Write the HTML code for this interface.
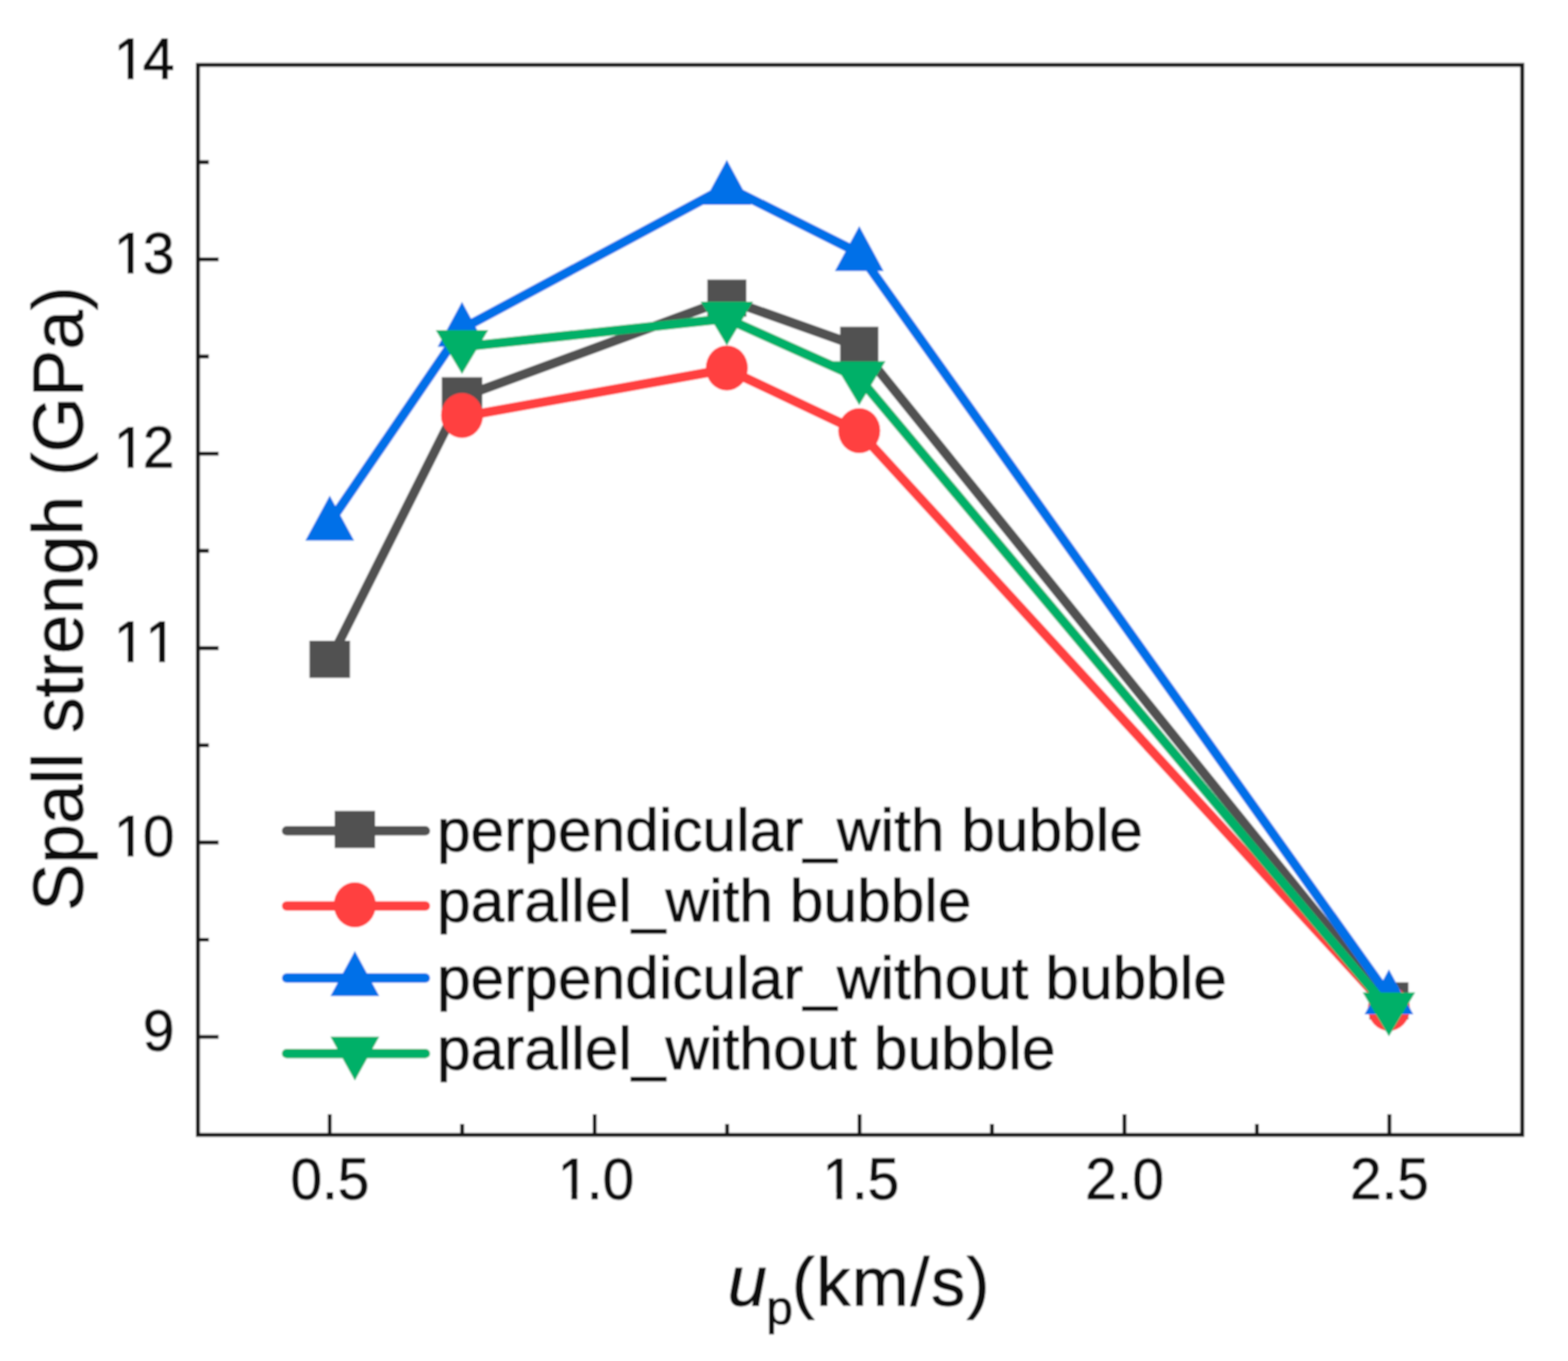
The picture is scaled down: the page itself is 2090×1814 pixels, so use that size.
<!DOCTYPE html>
<html lang="en">
<head>
<meta charset="utf-8">
<title>Spall strength vs particle velocity</title>
<style>
html,body{margin:0;padding:0;background:#fff;}
body{width:2090px;height:1814px;overflow:hidden;font-family:"Liberation Sans",Arial,Helvetica,sans-serif;}
svg{display:block;}
</style>
</head>
<body>
<svg role="img" aria-label="Spall strength versus particle velocity" width="2090" height="1814" viewBox="0 0 2090 1814" font-family="'Liberation Sans', Arial, Helvetica, sans-serif">
<defs><filter id="soft" x="0" y="0" width="2090" height="1814" filterUnits="userSpaceOnUse"><feGaussianBlur stdDeviation="1.1"/></filter></defs>
<rect x="0" y="0" width="2090" height="1814" fill="#ffffff"/>
<g filter="url(#soft)">
<rect x="0" y="0" width="2090" height="1814" fill="#ffffff"/>
<g id="series-sq">
<polyline points="439.5,880.5 615.8,529.2 968.8,399.1 1145.3,462.0 1851.3,1335.8" fill="none" stroke="#515151" stroke-width="12.5" stroke-linejoin="round"/>
<rect x="412.5" y="854.0" width="54" height="49.5" fill="#515151"/>
<rect x="588.8" y="502.7" width="54" height="49.5" fill="#515151"/>
<rect x="942.8" y="372.6" width="52" height="49.5" fill="#515151"/>
<rect x="1119.8" y="435.5" width="51" height="49.5" fill="#515151"/>
<rect x="1825.3" y="1309.3" width="52" height="49.5" fill="#515151"/>
</g>
<g id="series-ci">
<polyline points="615.8,555.3 968.8,492.0 1145.3,575.5 1851.3,1345.5" fill="none" stroke="#FF4040" stroke-width="12.5" stroke-linejoin="round"/>
<ellipse cx="615.8" cy="553.8" rx="28" ry="30" fill="#FF4040"/>
<ellipse cx="968.8" cy="490.5" rx="28" ry="30" fill="#FF4040"/>
<ellipse cx="1145.3" cy="574.0" rx="28" ry="30" fill="#FF4040"/>
<ellipse cx="1851.3" cy="1344.0" rx="28" ry="30" fill="#FF4040"/>
</g>
<g id="series-up">
<polyline points="439.5,696.6 615.8,438.2 968.8,249.0 1145.3,337.3 1851.3,1328.1" fill="none" stroke="#0070E8" stroke-width="12.5" stroke-linejoin="round"/>
<polygon points="439.5,660.6 472.0,720.6 407.0,720.6" fill="#0070E8"/>
<polygon points="615.8,402.2 648.3,462.2 583.3,462.2" fill="#0070E8"/>
<polygon points="968.8,213.0 1001.3,273.0 936.3,273.0" fill="#0070E8"/>
<polygon points="1145.3,301.3 1177.8,361.3 1112.8,361.3" fill="#0070E8"/>
<polygon points="1851.3,1292.1 1883.8,1352.1 1818.8,1352.1" fill="#0070E8"/>
</g>
<g id="series-dn">
<polyline points="615.8,462.4 968.8,424.6 1145.3,504.0 1851.3,1345.3" fill="none" stroke="#00B068" stroke-width="12.5" stroke-linejoin="round"/>
<polygon points="615.8,498.4 650.8,439.9 580.8,439.9" fill="#00B068"/>
<polygon points="968.8,460.6 1003.8,402.1 933.8,402.1" fill="#00B068"/>
<polygon points="1145.3,540.0 1180.3,481.5 1110.3,481.5" fill="#00B068"/>
<polygon points="1851.3,1381.3 1886.3,1322.8 1816.3,1322.8" fill="#00B068"/>
</g>
<g id="axes">
<rect x="263.8" y="86.5" width="1765.2" height="1426.1" fill="none" stroke="#141414" stroke-width="5.4"/>
<path d="M263.8 216.1h14.5 M263.8 345.6h27.5 M263.8 475.2h14.5 M263.8 604.7h27.5 M263.8 734.2h14.5 M263.8 863.8h27.5 M263.8 993.4h14.5 M263.8 1122.9h27.5 M263.8 1252.5h14.5 M263.8 1382.0h27.5 M439.5 1512.6v-27.5 M616.0 1512.6v-14.5 M792.6 1512.6v-27.5 M969.2 1512.6v-14.5 M1145.7 1512.6v-27.5 M1322.2 1512.6v-14.5 M1498.8 1512.6v-27.5 M1675.4 1512.6v-14.5 M1851.9 1512.6v-27.5" fill="none" stroke="#141414" stroke-width="5.2"/>
</g>
<g id="y-tick-labels">
<text transform="translate(0,104.70) scale(1,1.02)" y="0" font-size="75.5" fill="#0c0c0c" stroke="#0c0c0c" stroke-width="1.2" stroke-linejoin="round"><tspan x="151.71">1</tspan><tspan x="190.51">4</tspan></text><rect x="155.46" y="96.75" width="14.63" height="10.15" fill="#fff"/><rect x="177.97" y="96.75" width="13.94" height="10.15" fill="#fff"/>
<text transform="translate(0,363.80) scale(1,1.02)" y="0" font-size="75.5" fill="#0c0c0c" stroke="#0c0c0c" stroke-width="1.2" stroke-linejoin="round"><tspan x="151.71">1</tspan><tspan x="190.51">3</tspan></text><rect x="155.46" y="355.85" width="14.63" height="10.15" fill="#fff"/><rect x="177.97" y="355.85" width="13.94" height="10.15" fill="#fff"/>
<text transform="translate(0,622.90) scale(1,1.02)" y="0" font-size="75.5" fill="#0c0c0c" stroke="#0c0c0c" stroke-width="1.2" stroke-linejoin="round"><tspan x="151.71">1</tspan><tspan x="190.51">2</tspan></text><rect x="155.46" y="614.95" width="14.63" height="10.15" fill="#fff"/><rect x="177.97" y="614.95" width="13.94" height="10.15" fill="#fff"/>
<text transform="translate(0,882.00) scale(1,1.02)" y="0" font-size="75.5" fill="#0c0c0c" stroke="#0c0c0c" stroke-width="1.2" stroke-linejoin="round"><tspan x="151.71">1</tspan><tspan x="193.71">1</tspan></text><rect x="155.46" y="874.05" width="14.63" height="10.15" fill="#fff"/><rect x="177.97" y="874.05" width="13.94" height="10.15" fill="#fff"/><rect x="197.46" y="874.05" width="14.63" height="10.15" fill="#fff"/><rect x="219.97" y="874.05" width="13.94" height="10.15" fill="#fff"/>
<text transform="translate(0,1141.10) scale(1,1.02)" y="0" font-size="75.5" fill="#0c0c0c" stroke="#0c0c0c" stroke-width="1.2" stroke-linejoin="round"><tspan x="151.71">1</tspan><tspan x="190.51">0</tspan></text><rect x="155.46" y="1133.15" width="14.63" height="10.15" fill="#fff"/><rect x="177.97" y="1133.15" width="13.94" height="10.15" fill="#fff"/>
<text transform="translate(0,1400.20) scale(1,1.02)" y="0" font-size="75.5" fill="#0c0c0c" stroke="#0c0c0c" stroke-width="1.2" stroke-linejoin="round"><tspan x="190.51">9</tspan></text>
</g>
<g id="x-tick-labels">
<text transform="translate(0,1597.90) scale(1,1.02)" y="0" font-size="75.5" fill="#0c0c0c" stroke="#0c0c0c" stroke-width="1.2" stroke-linejoin="round"><tspan x="387.22">0</tspan><tspan x="429.21">.</tspan><tspan x="450.19">5</tspan></text>
<text transform="translate(0,1597.90) scale(1,1.02)" y="0" font-size="75.5" fill="#0c0c0c" stroke="#0c0c0c" stroke-width="1.2" stroke-linejoin="round"><tspan x="743.22">1</tspan><tspan x="782.31">.</tspan><tspan x="803.29">0</tspan></text><rect x="746.97" y="1589.95" width="14.63" height="10.15" fill="#fff"/><rect x="769.48" y="1589.95" width="13.94" height="10.15" fill="#fff"/>
<text transform="translate(0,1597.90) scale(1,1.02)" y="0" font-size="75.5" fill="#0c0c0c" stroke="#0c0c0c" stroke-width="1.2" stroke-linejoin="round"><tspan x="1096.32">1</tspan><tspan x="1135.41">.</tspan><tspan x="1156.39">5</tspan></text><rect x="1100.07" y="1589.95" width="14.63" height="10.15" fill="#fff"/><rect x="1122.58" y="1589.95" width="13.94" height="10.15" fill="#fff"/>
<text transform="translate(0,1597.90) scale(1,1.02)" y="0" font-size="75.5" fill="#0c0c0c" stroke="#0c0c0c" stroke-width="1.2" stroke-linejoin="round"><tspan x="1446.52">2</tspan><tspan x="1488.51">.</tspan><tspan x="1509.49">0</tspan></text>
<text transform="translate(0,1597.90) scale(1,1.02)" y="0" font-size="75.5" fill="#0c0c0c" stroke="#0c0c0c" stroke-width="1.2" stroke-linejoin="round"><tspan x="1799.62">2</tspan><tspan x="1841.61">.</tspan><tspan x="1862.59">5</tspan></text>
</g>
<text id="y-title" transform="translate(110,798) rotate(-90)" font-size="94.8" text-anchor="middle" fill="#0c0c0c" stroke="#0c0c0c" stroke-width="1.2" stroke-linejoin="round">Spall strengh (GPa)</text>
<text id="x-title" y="1739.5" font-size="94" fill="#0c0c0c" stroke="#0c0c0c" stroke-width="1.2" stroke-linejoin="round"><tspan x="970" font-style="italic">u</tspan><tspan x="1021.3" font-size="64" dy="25">p</tspan><tspan x="1055.6" dy="-25" font-size="91" letter-spacing="2.1">(km/s)</tspan></text>
<g id="legend">
<line x1="382" y1="1107.3" x2="567" y2="1107.3" stroke="#515151" stroke-width="12.5" stroke-linecap="round"/>
<rect x="446.0" y="1080.8" width="54" height="49.5" fill="#515151"/>
<text x="582.4" y="1133.9" font-size="80.6" fill="#0c0c0c" stroke="#0c0c0c" stroke-width="1.2" stroke-linejoin="round">perpendicular_with bubble</text>
<line x1="382" y1="1207.5" x2="567" y2="1207.5" stroke="#FF4040" stroke-width="12.5" stroke-linecap="round"/>
<ellipse cx="473.0" cy="1206.0" rx="28" ry="30" fill="#FF4040"/>
<text x="582.4" y="1228.4" font-size="80.6" fill="#0c0c0c" stroke="#0c0c0c" stroke-width="1.2" stroke-linejoin="round">parallel_with bubble</text>
<line x1="382" y1="1303.6" x2="567" y2="1303.6" stroke="#0070E8" stroke-width="12.5" stroke-linecap="round"/>
<polygon points="473.0,1267.6 505.5,1327.6 440.5,1327.6" fill="#0070E8"/>
<text x="582.4" y="1330.6" font-size="80.6" fill="#0c0c0c" stroke="#0c0c0c" stroke-width="1.2" stroke-linejoin="round">perpendicular_without bubble</text>
<line x1="382" y1="1404.2" x2="567" y2="1404.2" stroke="#00B068" stroke-width="12.5" stroke-linecap="round"/>
<polygon points="473.0,1440.2 505.5,1381.7 440.5,1381.7" fill="#00B068"/>
<text x="582.4" y="1425.1" font-size="80.6" fill="#0c0c0c" stroke="#0c0c0c" stroke-width="1.2" stroke-linejoin="round">parallel_without bubble</text>
</g>
</g>
</svg>
</body>
</html>
